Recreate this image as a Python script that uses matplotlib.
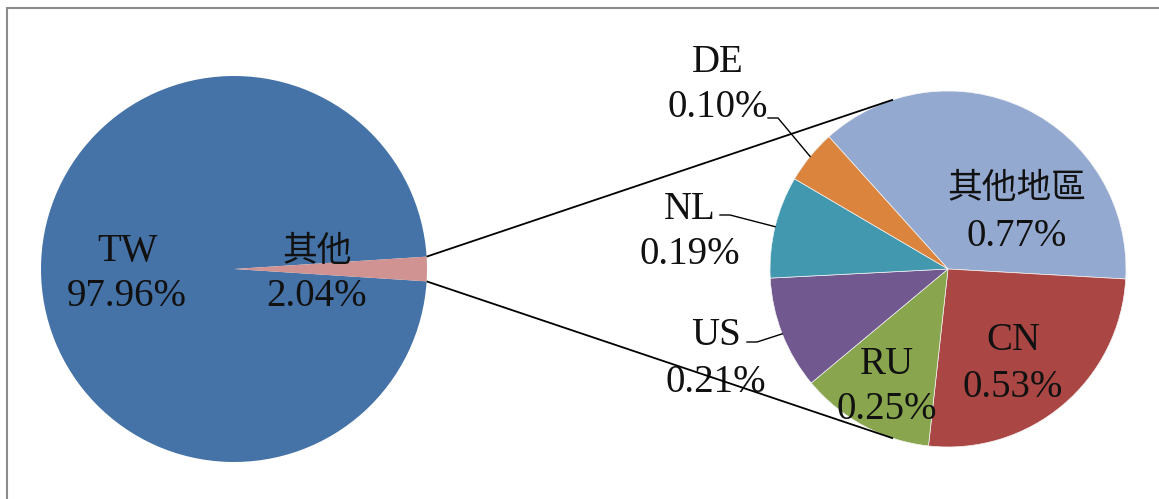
import numpy as np
import matplotlib
matplotlib.use("Agg")
import matplotlib.pyplot as plt
from matplotlib.patches import Rectangle

# ---- data ----
main_labels = ["TW", "其他"]
main_values = [97.96, 2.04]
main_pct = ["97.96%", "2.04%"]

sub_labels = ["其他地區", "CN", "RU", "US", "NL", "DE"]
sub_values = [0.77, 0.53, 0.25, 0.21, 0.19, 0.10]
sub_pct = ["0.77%", "0.53%", "0.25%", "0.21%", "0.19%", "0.10%"]

main_colors = ["#4572A7", "#D19392"]
sub_colors = ["#93A9CF", "#AA4643", "#89A54E", "#71588F", "#4198AF", "#DB843D"]

W, H = 1159, 499
fig = plt.figure(figsize=(W / 100, H / 100), dpi=100)
ax = fig.add_axes([0, 0, 1, 1])

def P(x, y):
    """pixel position (y measured from top) -> axes coords"""
    return (x, H - y)

LATIN = ["Liberation Serif", "DejaVu Serif"]
CJK = ["Noto Sans CJK TC", "DejaVu Sans"]

# ---- main pie ----
c1 = P(234, 269)
r1 = 193
other_span = main_values[1] / sum(main_values) * 360.0
ax.pie(main_values, colors=main_colors, startangle=other_span / 2,
       counterclock=True, center=c1, radius=r1,
       wedgeprops=dict(linewidth=0))

# ---- sub pie ----
c2 = P(948, 269)
r2 = 178
start2 = 132
wedges2, _ = ax.pie(sub_values, colors=sub_colors, startangle=start2,
                    counterclock=False, center=c2, radius=r2,
                    wedgeprops=dict(linewidth=0.5, edgecolor="#f4f4f4"))

# ---- connector lines ----
half = np.deg2rad(other_span / 2)
link_ang = np.deg2rad(108)
for s in (1, -1):
    x0 = c1[0] + r1 * np.cos(half)
    y0 = c1[1] + s * r1 * np.sin(half)
    x1 = c2[0] + r2 * np.cos(link_ang)
    y1 = c2[1] + s * r2 * np.sin(link_ang)
    ax.plot([x0, x1], [y0, y1], color="black", lw=1.3, zorder=5,
            solid_capstyle="butt")

FS = 28
FS_CJK = 25

def label(x, y, name, pct, dy=44):
    y = y + 3
    fam = CJK if any(ord(ch) > 0x2E80 for ch in name) else LATIN
    fs = FS_CJK if fam is CJK else FS
    ax.text(*P(x, y - dy / 2), name, ha="center", va="center",
            fontsize=fs, family=fam, color="#111111", zorder=4)
    ax.text(*P(x, y + dy / 2), pct, ha="center", va="center",
            fontsize=FS, family=LATIN, color="#111111", zorder=4)

# main labels
label(127, 271, main_labels[0], main_pct[0])
label(317, 271, main_labels[1], main_pct[1])

# sub labels inside
label(1017, 209, sub_labels[0], sub_pct[0], dy=48)
label(1013, 361, sub_labels[1], sub_pct[1], dy=47)
label(887, 384, sub_labels[2], sub_pct[2], dy=45)
# outside labels
label(716, 356, sub_labels[3], sub_pct[3], dy=47)
label(690, 229, sub_labels[4], sub_pct[4], dy=45)
label(718, 82, sub_labels[5], sub_pct[5], dy=45)

# leader lines for outside labels (to wedge mid-angle on rim)
leader_start = {3: (747, 342), 4: (720, 215), 5: (768, 118)}
for i, (lx, ly) in leader_start.items():
    w = wedges2[i]
    mid = np.deg2rad((w.theta1 + w.theta2) / 2)
    ex = c2[0] + r2 * np.cos(mid)
    ey = c2[1] + r2 * np.sin(mid)
    sx, sy = P(lx, ly)
    ax.plot([sx, sx + 10, ex], [sy, sy, ey], color="black", lw=1.0, zorder=5)

# frame border
ax.add_patch(Rectangle(P(7, 520), W + 20, 512, fill=False,
                       edgecolor="#8c8c8c", lw=1.5, zorder=6))

ax.set_xlim(0, W)
ax.set_ylim(0, H)
ax.set_aspect("equal")
ax.axis("off")

fig.savefig("out.png", dpi=100, facecolor="white")
